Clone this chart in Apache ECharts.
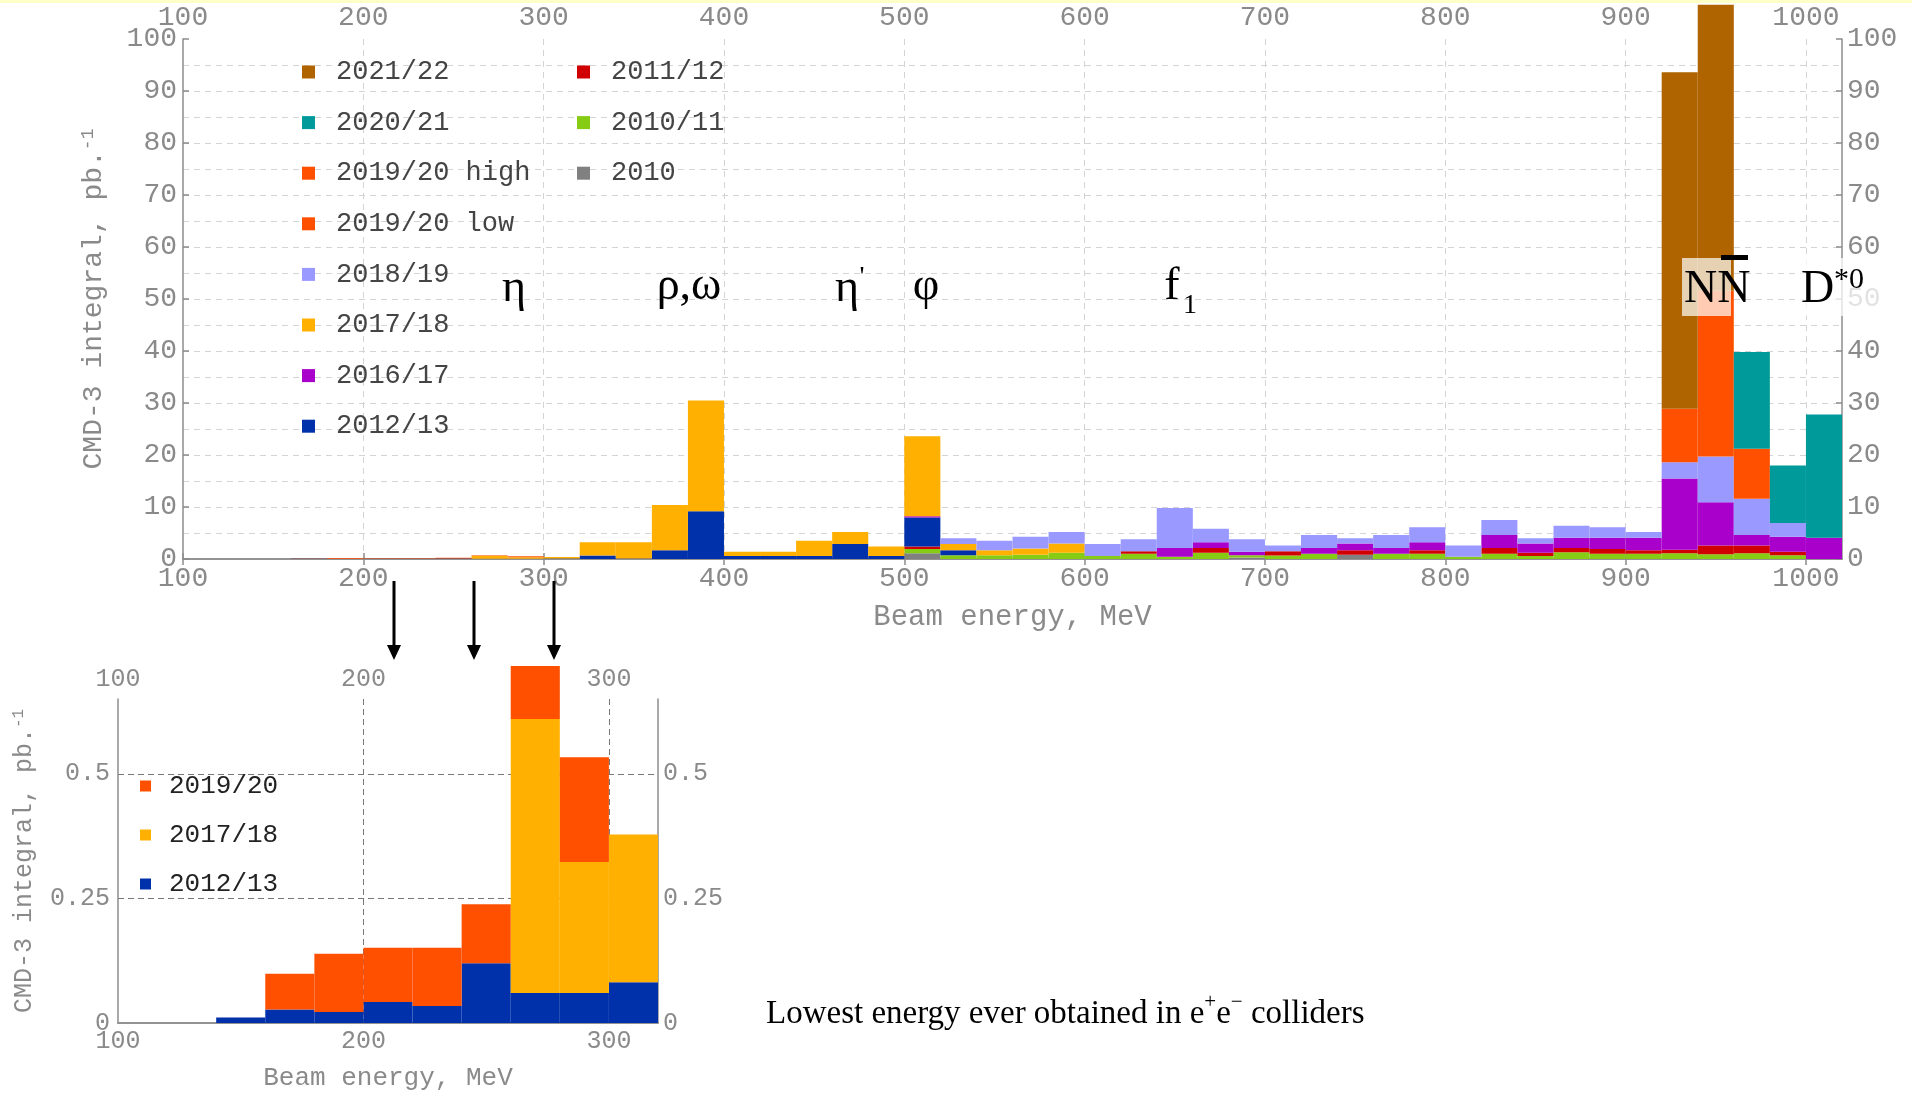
<!DOCTYPE html>
<html>
<head>
<meta charset="utf-8">
<script src="https://cdn.jsdelivr.net/npm/echarts@6/dist/echarts.min.js"></script>
<style>
html,body{margin:0;padding:0;background:#fff;}
#chart{width:1912px;height:1097px;}
</style>
</head>
<body>
<div id="chart"></div>
<script>
// ---------- DATA ----------
// lower edges of 20 MeV beam-energy bins (main chart)
const binLow = [100,120,140,160,180,200,220,240,260,280,300,320,340,360,380,400,420,440,460,480,500,520,540,560,580,600,620,640,660,680,700,720,740,760,780,800,820,840,860,880,900,920,940,960,980,1000];
const binWidth = 20;
// integrated luminosity per bin, pb^-1 (stack segment of each season)
const s2010      = [0,0,0,0,0,0,0,0,0,0,0,0,0,0,0,0,0,0,0,0,1.1,0,0,0,0,0,0,0,0,0.3,0,0,0.8,0,0,0,0,0,0,0,0,0,0,0,0,0];
const s2010_11   = [0,0,0,0,0,0,0,0,0,0,0,0,0,0,0,0,0,0,0,0,0.8,0.7,0.7,0.8,1.2,0.6,1.0,0.45,1.2,0.4,0.65,1.0,0,1.0,1.0,0.45,1.0,0.6,1.3,1.0,1.0,1.1,0.9,1.1,0.7,0];
const s2011_12   = [0,0,0,0,0,0,0,0,0,0,0,0,0,0,0,0,0,0,0,0,0.5,0,0,0,0,0,0.5,0,0.9,0,0.85,0,0.9,0,0.7,0,1.1,0.6,0.8,0.9,0.7,0.7,1.7,1.5,0.7,0];
const s2012_13   = [0,0,0.011,0.027,0.022,0.042,0.034,0.12,0.06,0.06,0.082,0.65,0.1,1.7,9.2,0.6,0.6,0.6,2.9,0.6,5.6,1.0,0,0,0,0,0,0,0,0,0,0,0,0,0,0,0,0,0,0,0,0,0,0,0,0];
const s2016_17   = [0,0,0,0,0,0,0,0,0,0,0,0,0,0,0,0,0,0,0,0,0.2,0,0,0,0,0,0,1.65,1.1,0.7,0,1.1,1.3,1.1,1.5,0,2.5,1.8,2.0,2.2,2.4,13.7,8.3,2.0,2.9,4.1];
const s2017_18   = [0,0,0,0,0,0,0,0,0.55,0.263,0.296,2.55,3.1,8.7,21.3,0.8,0.8,2.9,2.3,1.8,15.4,1.2,1.0,1.2,1.8,0,0,0,0,0,0,0,0,0,0,0,0,0,0,0,0,0,0,0,0,0];
const s2018_19   = [0,0,0,0,0,0,0,0,0,0,0,0,0,0,0,0,0,0,0,0,0,1.1,1.8,2.3,2.2,2.3,2.3,7.7,2.6,2.4,1.1,2.5,1.0,2.5,2.9,2.15,2.9,1.0,2.3,2.0,1.1,3.1,8.8,7.0,2.6,0];
const s2019_20lo = [0,0,0,0.072,0.117,0.109,0.117,0.118,0.106,0.21,0,0,0,0,0,0,0,0,0,0,0,0,0,0,0,0,0,0,0,0,0,0,0,0,0,0,0,0,0,0,0,0,0,0,0,0];
const s2019_20hi = [0,0,0,0,0,0,0,0,0,0,0,0,0,0,0,0,0,0,0,0,0,0,0,0,0,0,0,0,0,0,0,0,0,0,0,0,0,0,0,0,0,10.3,31.9,9.6,0,0];
const s2020_21   = [0,0,0,0,0,0,0,0,0,0,0,0,0,0,0,0,0,0,0,0,0,0,0,0,0,0,0,0,0,0,0,0,0,0,0,0,0,0,0,0,0,0,0,18.6,11.1,23.7];
const s2021_22   = [0,0,0,0,0,0,0,0,0,0,0,0,0,0,0,0,0,0,0,0,0,0,0,0,0,0,0,0,0,0,0,0,0,0,0,0,0,0,0,0,0,64.7,55.0,0,0,0];

// inset shows bins from 100 to 320 MeV
const insetBinCount = 11;

// ---------- STYLE ----------
const seasons = [
  {name:'2010',         data:s2010,      color:'#808080'},
  {name:'2010/11',      data:s2010_11,   color:'#86cc14'},
  {name:'2011/12',      data:s2011_12,   color:'#d00000'},
  {name:'2012/13',      data:s2012_13,   color:'#0030aa'},
  {name:'2016/17',      data:s2016_17,   color:'#aa00cc'},
  {name:'2017/18',      data:s2017_18,   color:'#ffb000'},
  {name:'2018/19',      data:s2018_19,   color:'#9999ff'},
  {name:'2019/20 low',  data:s2019_20lo, color:'#ff5000'},
  {name:'2019/20 high', data:s2019_20hi, color:'#ff5000'},
  {name:'2020/21',      data:s2020_21,   color:'#009a9a'},
  {name:'2021/22',      data:s2021_22,   color:'#b06400'}
];
const insetSeasons = [
  {name:'2012/13', data:s2012_13,   color:'#0030aa'},
  {name:'2017/18', data:s2017_18,   color:'#ffb000'},
  {name:'2019/20', data:s2019_20lo, color:'#ff5000'}
];

function buildStack(list, nBins){
  const base = new Array(nBins).fill(0);
  return list.map(s => {
    const rows = [];
    for (let i = 0; i < nBins; i++){
      const v = s.data[i];
      if (v > 0){
        rows.push([binLow[i], binLow[i] + binWidth, base[i], base[i] + v]);
        base[i] += v;
      }
    }
    return {name:s.name, color:s.color, rows};
  });
}

function renderRect(params, api){
  const p0 = api.coord([api.value(0), api.value(3)]);
  const p1 = api.coord([api.value(1), api.value(2)]);
  return {
    type:'rect',
    shape:{x:p0[0], y:p0[1], width:p1[0]-p0[0], height:p1[1]-p0[1]},
    style:{fill: api.visual('color')}
  };
}

const mono = '"Liberation Mono", "DejaVu Sans Mono", monospace';
const serif = '"Liberation Serif", "DejaVu Serif", serif';
const axisGray = '#8a8a8a';
const plain = v => String(v);

const mainStack = buildStack(seasons, binLow.length);
const insetStack = buildStack(insetSeasons, insetBinCount);

const series = [];
mainStack.forEach(s => series.push({
  type:'custom', name:s.name, xAxisIndex:0, yAxisIndex:0,
  renderItem:renderRect, itemStyle:{color:s.color},
  encode:{x:[0,1], y:[2,3]}, data:s.rows, clip:false, z:3, animation:false
}));
insetStack.forEach(s => series.push({
  type:'custom', name:s.name, xAxisIndex:2, yAxisIndex:2,
  renderItem:renderRect, itemStyle:{color:s.color},
  encode:{x:[0,1], y:[2,3]}, data:s.rows, clip:false, z:3, animation:false
}));

const lblMain = {fontFamily:mono, fontSize:28, color:axisGray, formatter:plain};
const lblInset = {fontFamily:mono, fontSize:25, color:axisGray, formatter:plain};
const lineStyle = {color:'#8c8c8c', width:1.5};

const option = {
  backgroundColor:'#fff',
  animation:false,
  grid:[
    {left:183, top:39, width:1659, height:520},
    {left:118, top:699, width:540, height:324}
  ],
  xAxis:[
    {gridIndex:0, type:'value', min:100, max:1020, interval:100, position:'bottom',
     axisLine:{show:true, lineStyle}, axisTick:{show:true, inside:true, length:6, lineStyle},
     axisLabel:Object.assign({margin:6, showMaxLabel:false}, lblMain),
     splitLine:{show:true, showMaxLine:false, showMinLine:false, lineStyle:{type:[6,5], color:'#d4d4d4', width:1}},
     name:'Beam energy, MeV', nameLocation:'middle', nameGap:44,
     nameTextStyle:{fontFamily:mono, fontSize:29, color:axisGray}},
    {gridIndex:0, type:'value', min:100, max:1020, interval:100, position:'top', z:1,
     axisLine:{show:true, lineStyle}, axisTick:{show:true, inside:true, length:6, lineStyle},
     axisLabel:Object.assign({margin:7, showMaxLabel:false}, lblMain),
     splitLine:{show:false}},
    {gridIndex:1, type:'value', min:100, max:320, interval:100, position:'bottom',
     axisLine:{show:true, lineStyle}, axisTick:{show:false},
     axisLabel:Object.assign({margin:6, showMaxLabel:false}, lblInset),
     splitLine:{show:true, showMaxLine:false, showMinLine:false, lineStyle:{type:[6,4], color:'#777', width:1}},
     name:'Beam energy, MeV', nameLocation:'middle', nameGap:42,
     nameTextStyle:{fontFamily:mono, fontSize:26, color:axisGray}},
    {gridIndex:1, type:'value', min:100, max:320, interval:100, position:'top', z:1,
     axisLine:{show:true, lineStyle}, axisTick:{show:false},
     axisLabel:Object.assign({margin:7, showMaxLabel:false}, lblInset),
     splitLine:{show:false}}
  ],
  yAxis:[
    {gridIndex:0, type:'value', min:0, max:100, interval:10, position:'left',
     axisLine:{show:true, lineStyle}, axisTick:{show:true, inside:true, length:6, lineStyle},
     axisLabel:Object.assign({margin:6}, lblMain),
     splitLine:{show:true, showMaxLine:false, showMinLine:false, lineStyle:{type:[6,5], color:'#d4d4d4', width:1}},
     minorTick:{show:false, splitNumber:2},
     minorSplitLine:{show:true, lineStyle:{type:[6,5], color:'#d4d4d4', width:1}},
     name:'{a|CMD-3 integral, pb.}{s|-1}', nameLocation:'middle', nameGap:74, nameRotate:90,
     nameTextStyle:{rich:{
       a:{fontFamily:mono, fontSize:28, color:axisGray, lineHeight:30},
       s:{fontFamily:mono, fontSize:18, color:axisGray, verticalAlign:'top', lineHeight:30}
     }}},
    {gridIndex:0, type:'value', min:0, max:100, interval:10, position:'right', z:1,
     axisLine:{show:true, lineStyle}, axisTick:{show:true, inside:true, length:6, lineStyle},
     axisLabel:Object.assign({margin:5}, lblMain),
     splitLine:{show:false}},
    {gridIndex:1, type:'value', min:0, max:0.65, interval:0.25, position:'left',
     axisLine:{show:true, lineStyle}, axisTick:{show:false},
     axisLabel:Object.assign({margin:8, showMaxLabel:false}, lblInset),
     splitLine:{show:true, showMaxLine:false, showMinLine:false, lineStyle:{type:[6,4], color:'#777', width:1}},
     name:'{a|CMD-3 integral, pb.}{s|-1}', nameLocation:'middle', nameGap:80, nameRotate:90,
     nameTextStyle:{rich:{
       a:{fontFamily:mono, fontSize:25, color:axisGray, lineHeight:27},
       s:{fontFamily:mono, fontSize:16, color:axisGray, verticalAlign:'top', lineHeight:27}
     }}},
    {gridIndex:1, type:'value', min:0, max:0.65, interval:0.25, position:'right', z:1,
     axisLine:{show:true, lineStyle}, axisTick:{show:false},
     axisLabel:Object.assign({margin:5, showMaxLabel:false}, lblInset),
     splitLine:{show:false}}
  ],
  legend:[
    {data:['2021/22','2020/21','2019/20 high','2019/20 low','2018/19','2017/18','2016/17','2012/13'],
     orient:'vertical', left:302, top:58, padding:0, itemWidth:13, itemHeight:13, itemGap:22.6,
     icon:'rect', selectedMode:false,
     textStyle:{fontFamily:mono, fontSize:27, color:'#444', lineHeight:28, padding:[0,0,0,16]}},
    {data:['2011/12','2010/11','2010'],
     orient:'vertical', left:577, top:58, padding:0, itemWidth:13, itemHeight:13, itemGap:22.6,
     icon:'rect', selectedMode:false,
     textStyle:{fontFamily:mono, fontSize:27, color:'#444', lineHeight:28, padding:[0,0,0,16]}},
    {data:['2019/20','2017/18','2012/13'],
     orient:'vertical', left:140, top:773, padding:0, itemWidth:11, itemHeight:11, itemGap:23,
     icon:'rect', selectedMode:false,
     textStyle:{fontFamily:mono, fontSize:26, color:'#222', lineHeight:26, padding:[0,0,0,13]}}
  ],
  series:series
};

const chart = echarts.init(document.getElementById('chart'), null, {renderer:'canvas'});
chart.setOption(option);

// ---------- ANNOTATIONS ----------
function txt(text, x, y, size, align){
  return {type:'text', z:100, style:{text, x, y, font:size+'px '+serif, fill:'#000',
    align:align||'center', verticalAlign:'middle'}};
}
const g = [];
g.push({type:'rect', z:100, shape:{x:0, y:0, width:1912, height:3}, style:{fill:'#ffffc8'}});
g.push(txt('η', 514, 289, 46));
g.push(txt('ρ,ω', 689, 287, 46));
g.push(txt('η', 847, 289, 46));
g.push(txt("'", 862, 278, 28));
g.push(txt('φ', 926, 287, 46));
g.push(txt('f', 1172, 287, 46));
g.push(txt('1', 1183, 306, 28, 'left'));
// NN-bar
g.push({type:'rect', z:99, shape:{x:1682, y:258, width:49, height:58}, style:{fill:'rgba(255,255,255,0.7)'}});
g.push(txt('NN', 1684, 290, 46, 'left'));
g.push({type:'rect', z:100, shape:{x:1721, y:255, width:27, height:5}, style:{fill:'#000'}});
// D*0
g.push({type:'rect', z:99, shape:{x:1800, y:258, width:84, height:58}, style:{fill:'rgba(255,255,255,0.75)'}});
g.push(txt('D', 1801, 290, 46, 'left'));
g.push(txt('*0', 1834, 280, 30, 'left'));
// arrows
[394, 474, 554].forEach(x => {
  g.push({type:'line', z:100, shape:{x1:x, y1:581, x2:x, y2:648}, style:{stroke:'#000', lineWidth:3}});
  g.push({type:'polygon', z:100, shape:{points:[[x-7,645],[x+7,645],[x,660]]}, style:{fill:'#000'}});
});
// caption with superscripts
const big = 33, small = 21, cx0 = 766, cy = 1014, sy = 1002;
const mc = document.createElement('canvas').getContext('2d');
function wid(t, sz){ mc.font = sz + 'px "Liberation Serif"'; return mc.measureText(t).width; }
const parts = [
  ['Lowest energy ever obtained in e', big, cy],
  ['+', small, sy],
  ['e', big, cy],
  ['−', small, sy],
  [' colliders', big, cy]
];
let cx = cx0;
parts.forEach(p => {
  g.push({type:'text', z:100, style:{text:p[0], x:cx, y:p[2], font:p[1]+'px '+serif, fill:'#000', align:'left', verticalAlign:'middle'}});
  cx += wid(p[0], p[1]);
});
chart.setOption({graphic:g});
</script>
</body>
</html>
